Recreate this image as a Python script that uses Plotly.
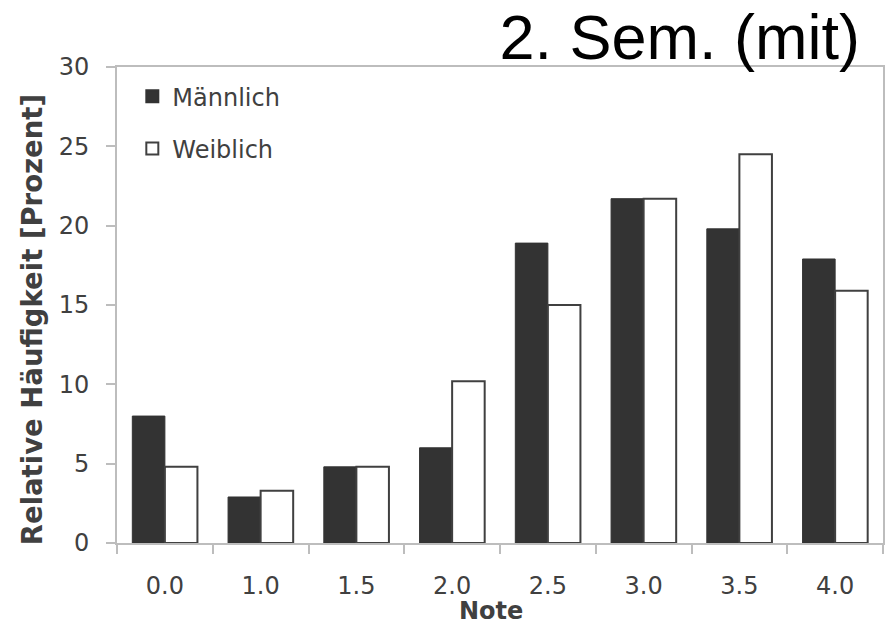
import plotly.graph_objects as go

# Grade distribution, second semester (with), by gender
noten = ["0.0", "1.0", "1.5", "2.0", "2.5", "3.0", "3.5", "4.0"]
maennlich = [8.0, 2.9, 4.8, 6.0, 18.9, 21.7, 19.8, 17.9]
weiblich = [4.8, 3.3, 4.8, 10.2, 15.0, 21.7, 24.5, 15.9]
y_ticks = [0, 5, 10, 15, 20, 25, 30]

W, H = 887, 625
ML, MR, MT, MB = 117, 2, 67, 82

text_col = "#404040"
axis_col = "#bdbdbd"
font_main = "Verdana, DejaVu Sans, sans-serif"

fig = go.Figure()
fig.add_trace(go.Bar(
    x=noten, y=maennlich, name="Männlich", legendgroup="m",
    marker=dict(color="#333333", line=dict(color="#333333", width=1)),
))
fig.add_trace(go.Bar(
    x=noten, y=weiblich, name="Weiblich", legendgroup="w",
    marker=dict(color="#ffffff", line=dict(color="#404040", width=2)),
))

fig.update_layout(
    width=W, height=H,
    margin=dict(l=ML, r=MR, t=MT, b=MB, pad=0),
    paper_bgcolor="white", plot_bgcolor="white",
    barmode="group", bargap=0.32, bargroupgap=0.0,
    font=dict(family=font_main, color=text_col, size=24),
    title=dict(
        text="2. Sem. (mit)",
        font=dict(family="Arial, Liberation Sans, sans-serif", size=63, color="black"),
        xref="container", x=860 / W, xanchor="right",
        yref="container", y=1 - 37 / H, yanchor="middle",
    ),
    showlegend=True,
    legend=dict(
        x=0.02, y=0.985, xanchor="left", yanchor="top",
        bgcolor="rgba(0,0,0,0)", font=dict(size=24, color=text_col),
        tracegroupgap=18, itemsizing="constant",
    ),
    xaxis=dict(
        type="category", tickson="boundaries",
        ticks="outside", ticklen=9, tickcolor=axis_col, tickwidth=1.5,
        showline=True, linecolor=axis_col, linewidth=2, mirror=True,
        showgrid=False, tickfont=dict(size=24, color=text_col),
        ticklabelstandoff=20,
    ),
    yaxis=dict(
        range=[0, 30], tickvals=y_ticks, ticks="outside", ticklen=9,
        tickcolor=axis_col, tickwidth=1.5,
        showline=True, linecolor=axis_col, linewidth=2, mirror=True,
        showgrid=False, zeroline=False, tickfont=dict(size=24, color=text_col),
        ticklabelstandoff=12,
    ),
    annotations=[
        dict(text="<b>Note</b>", xref="paper", yref="paper",
             x=0.488, y=-0.143, xanchor="center", yanchor="middle",
             showarrow=False, font=dict(size=24, color=text_col)),
        dict(text="<b>Relative Häufigkeit [Prozent]</b>", xref="paper", yref="paper",
             x=-0.1107, y=0.4685, xanchor="center", yanchor="middle", textangle=-90,
             showarrow=False, font=dict(size=27.5, color=text_col)),
    ],
)

fig.write_html("out.html")
